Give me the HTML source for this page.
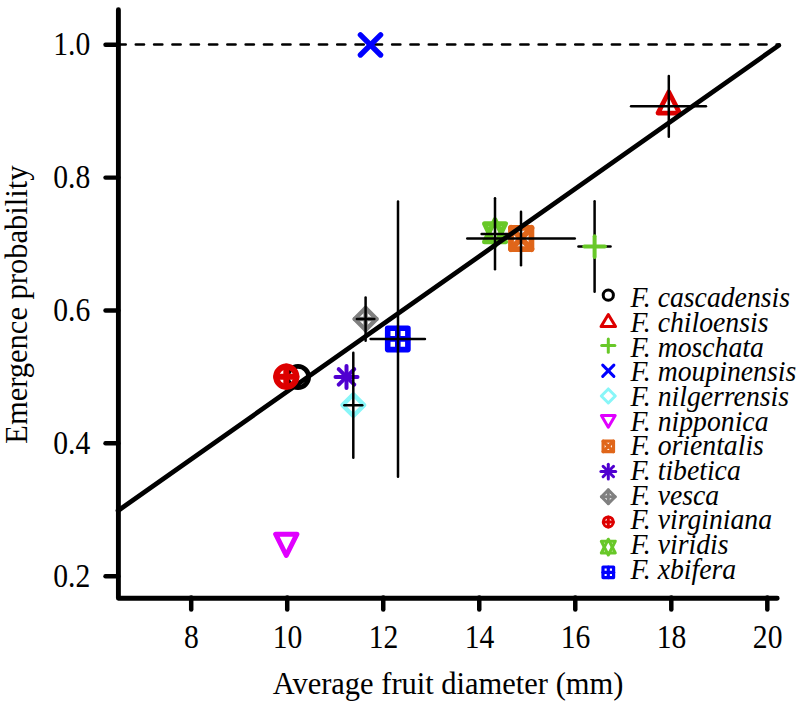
<!DOCTYPE html>
<html><head><meta charset="utf-8"><style>
html,body{margin:0;padding:0;background:#fff;}
svg{display:block;}
.tk{font-family:"Liberation Serif",serif;font-size:30px;fill:#000;}
.lg{font-family:"Liberation Serif",serif;font-style:italic;font-size:28.8px;fill:#000;}
</style></head><body>
<svg width="800" height="705" viewBox="0 0 800 705">
<rect width="800" height="705" fill="#fff"/>
<path d="M118.4,9.8 L118.4,598.2 L777.2,598.2" fill="none" stroke="#000" stroke-width="4.9" stroke-linecap="round" stroke-linejoin="round"/>
<line x1="105.50" y1="44.70" x2="118.40" y2="44.70" stroke="#000" stroke-width="4.4" stroke-linecap="round"/>
<line x1="105.50" y1="177.60" x2="118.40" y2="177.60" stroke="#000" stroke-width="4.4" stroke-linecap="round"/>
<line x1="105.50" y1="310.50" x2="118.40" y2="310.50" stroke="#000" stroke-width="4.4" stroke-linecap="round"/>
<line x1="105.50" y1="443.30" x2="118.40" y2="443.30" stroke="#000" stroke-width="4.4" stroke-linecap="round"/>
<line x1="105.50" y1="576.20" x2="118.40" y2="576.20" stroke="#000" stroke-width="4.4" stroke-linecap="round"/>
<line x1="191.20" y1="597.60" x2="191.20" y2="609.60" stroke="#000" stroke-width="4.5" stroke-linecap="round"/>
<line x1="287.22" y1="597.60" x2="287.22" y2="609.60" stroke="#000" stroke-width="4.5" stroke-linecap="round"/>
<line x1="383.24" y1="597.60" x2="383.24" y2="609.60" stroke="#000" stroke-width="4.5" stroke-linecap="round"/>
<line x1="479.26" y1="597.60" x2="479.26" y2="609.60" stroke="#000" stroke-width="4.5" stroke-linecap="round"/>
<line x1="575.28" y1="597.60" x2="575.28" y2="609.60" stroke="#000" stroke-width="4.5" stroke-linecap="round"/>
<line x1="671.30" y1="597.60" x2="671.30" y2="609.60" stroke="#000" stroke-width="4.5" stroke-linecap="round"/>
<line x1="767.32" y1="597.60" x2="767.32" y2="609.60" stroke="#000" stroke-width="4.5" stroke-linecap="round"/>
<line x1="117.5" y1="44.5" x2="779.5" y2="44.5" stroke="#000" stroke-width="2.6" stroke-linecap="round" stroke-dasharray="8.2 10.11"/>
<circle cx="298.00" cy="377.00" r="10.65" fill="none" stroke="#000" stroke-width="4.7"/>
<line x1="335.50" y1="376.90" x2="357.50" y2="376.90" stroke="#5000D0" stroke-width="4.0" stroke-linecap="round"/>
<line x1="346.50" y1="365.90" x2="346.50" y2="387.90" stroke="#5000D0" stroke-width="4.0" stroke-linecap="round"/>
<line x1="338.72" y1="369.12" x2="354.28" y2="384.68" stroke="#5000D0" stroke-width="4.0" stroke-linecap="round"/>
<line x1="338.72" y1="384.68" x2="354.28" y2="369.12" stroke="#5000D0" stroke-width="4.0" stroke-linecap="round"/>
<polygon points="353.30,394.40 364.10,405.20 353.30,416.00 342.50,405.20" fill="none" stroke="#88F6F8" stroke-width="4.5" stroke-linejoin="round"/>
<line x1="353.30" y1="352.75" x2="353.30" y2="457.75" stroke="#000" stroke-width="2.5" stroke-linecap="round"/>
<line x1="344.35" y1="405.20" x2="362.25" y2="405.20" stroke="#000" stroke-width="2.5" stroke-linecap="round"/>
<polygon points="365.60,308.10 376.50,319.00 365.60,329.90 354.70,319.00" fill="none" stroke="#808080" stroke-width="4.4" stroke-linejoin="round"/>
<line x1="354.70" y1="319.00" x2="376.50" y2="319.00" stroke="#808080" stroke-width="4.4" stroke-linecap="round"/>
<line x1="365.60" y1="308.10" x2="365.60" y2="329.90" stroke="#808080" stroke-width="4.4" stroke-linecap="round"/>
<line x1="365.60" y1="297.55" x2="365.60" y2="340.65" stroke="#000" stroke-width="2.5" stroke-linecap="round"/>
<line x1="356.85" y1="319.00" x2="374.35" y2="319.00" stroke="#000" stroke-width="2.5" stroke-linecap="round"/>
<polygon points="387.70,328.20 407.90,328.20 407.90,349.60 387.70,349.60" fill="none" stroke="#0000FF" stroke-width="5.6" stroke-linejoin="round"/>
<line x1="387.70" y1="338.90" x2="407.90" y2="338.90" stroke="#0000FF" stroke-width="5.6" stroke-linecap="round"/>
<line x1="397.80" y1="328.20" x2="397.80" y2="349.60" stroke="#0000FF" stroke-width="5.6" stroke-linecap="round"/>
<line x1="398.00" y1="201.45" x2="398.00" y2="476.85" stroke="#000" stroke-width="2.5" stroke-linecap="round"/>
<line x1="370.65" y1="339.00" x2="424.95" y2="339.00" stroke="#000" stroke-width="2.5" stroke-linecap="round"/>
<polygon points="275.65,534.20 296.95,534.20 286.30,555.50" fill="none" stroke="#E000FF" stroke-width="5.0" stroke-linejoin="round"/>
<polygon points="495.00,219.70 505.45,241.70 484.55,241.70" fill="none" stroke="#68C828" stroke-width="5.0" stroke-linejoin="round"/>
<polygon points="495.00,245.70 505.45,223.70 484.55,223.70" fill="none" stroke="#68C828" stroke-width="5.0" stroke-linejoin="round"/>
<line x1="495.00" y1="198.25" x2="495.00" y2="269.15" stroke="#000" stroke-width="2.5" stroke-linecap="round"/>
<line x1="481.65" y1="233.90" x2="508.25" y2="233.90" stroke="#000" stroke-width="2.5" stroke-linecap="round"/>
<polygon points="511.00,227.90 531.40,227.90 531.40,249.10 511.00,249.10" fill="none" stroke="#E0661A" stroke-width="5.8" stroke-linejoin="round"/>
<line x1="511.00" y1="227.90" x2="531.40" y2="249.10" stroke="#E0661A" stroke-width="5.8" stroke-linecap="round"/>
<line x1="511.00" y1="249.10" x2="531.40" y2="227.90" stroke="#E0661A" stroke-width="5.8" stroke-linecap="round"/>
<line x1="521.00" y1="211.65" x2="521.00" y2="265.25" stroke="#000" stroke-width="2.5" stroke-linecap="round"/>
<line x1="467.25" y1="238.60" x2="574.75" y2="238.60" stroke="#000" stroke-width="2.5" stroke-linecap="round"/>
<polygon points="668.80,92.00 679.60,113.10 658.00,113.10" fill="none" stroke="#DD0000" stroke-width="4.8" stroke-linejoin="round"/>
<line x1="668.80" y1="75.95" x2="668.80" y2="136.75" stroke="#000" stroke-width="2.5" stroke-linecap="round"/>
<line x1="631.05" y1="106.20" x2="705.95" y2="106.20" stroke="#000" stroke-width="2.5" stroke-linecap="round"/>
<line x1="118.0" y1="510.75" x2="778.8" y2="45.4" stroke="#000" stroke-width="4.7" stroke-linecap="round"/>
<line x1="594.60" y1="201.35" x2="594.60" y2="291.75" stroke="#000" stroke-width="2.5" stroke-linecap="round"/>
<line x1="578.45" y1="246.50" x2="610.55" y2="246.50" stroke="#000" stroke-width="2.5" stroke-linecap="round"/>
<line x1="584.30" y1="246.60" x2="604.90" y2="246.60" stroke="#68C828" stroke-width="4.0" stroke-linecap="round"/>
<line x1="594.60" y1="236.30" x2="594.60" y2="256.90" stroke="#68C828" stroke-width="4.0" stroke-linecap="round"/>
<line x1="360.40" y1="34.80" x2="380.60" y2="55.00" stroke="#0000FF" stroke-width="5.4" stroke-linecap="round"/>
<line x1="360.40" y1="55.00" x2="380.60" y2="34.80" stroke="#0000FF" stroke-width="5.4" stroke-linecap="round"/>
<circle cx="286.30" cy="376.70" r="10.10" fill="none" stroke="#DD0000" stroke-width="6.0"/>
<line x1="276.20" y1="376.70" x2="296.40" y2="376.70" stroke="#DD0000" stroke-width="6.0" stroke-linecap="round"/>
<line x1="286.30" y1="366.60" x2="286.30" y2="386.80" stroke="#DD0000" stroke-width="6.0" stroke-linecap="round"/>
<circle cx="608.30" cy="295.20" r="5.10" fill="none" stroke="#000" stroke-width="3.0"/>
<polygon points="608.30,314.49 615.55,326.49 601.05,326.49" fill="none" stroke="#DD0000" stroke-width="3.0" stroke-linejoin="round"/>
<line x1="601.70" y1="345.58" x2="614.90" y2="345.58" stroke="#68C828" stroke-width="3.0" stroke-linecap="round"/>
<line x1="608.30" y1="338.98" x2="608.30" y2="352.18" stroke="#68C828" stroke-width="3.0" stroke-linecap="round"/>
<line x1="602.70" y1="365.17" x2="613.90" y2="376.37" stroke="#0000FF" stroke-width="3.0" stroke-linecap="round"/>
<line x1="602.70" y1="376.37" x2="613.90" y2="365.17" stroke="#0000FF" stroke-width="3.0" stroke-linecap="round"/>
<polygon points="608.30,388.96 615.30,395.96 608.30,402.96 601.30,395.96" fill="none" stroke="#88F6F8" stroke-width="3.0" stroke-linejoin="round"/>
<polygon points="601.40,415.60 615.20,415.60 608.30,427.15" fill="none" stroke="#E000FF" stroke-width="3.0" stroke-linejoin="round"/>
<polygon points="603.10,441.14 613.50,441.14 613.50,451.54 603.10,451.54" fill="none" stroke="#E0661A" stroke-width="3.2" stroke-linejoin="round"/>
<line x1="603.10" y1="441.14" x2="613.50" y2="451.54" stroke="#E0661A" stroke-width="3.2" stroke-linecap="round"/>
<line x1="603.10" y1="451.54" x2="613.50" y2="441.14" stroke="#E0661A" stroke-width="3.2" stroke-linecap="round"/>
<line x1="600.90" y1="471.53" x2="615.70" y2="471.53" stroke="#5000D0" stroke-width="3.0" stroke-linecap="round"/>
<line x1="608.30" y1="464.13" x2="608.30" y2="478.93" stroke="#5000D0" stroke-width="3.0" stroke-linecap="round"/>
<line x1="603.07" y1="466.30" x2="613.53" y2="476.76" stroke="#5000D0" stroke-width="3.0" stroke-linecap="round"/>
<line x1="603.07" y1="476.76" x2="613.53" y2="466.30" stroke="#5000D0" stroke-width="3.0" stroke-linecap="round"/>
<polygon points="608.30,489.82 615.20,496.72 608.30,503.62 601.40,496.72" fill="none" stroke="#808080" stroke-width="3.0" stroke-linejoin="round"/>
<line x1="601.40" y1="496.72" x2="615.20" y2="496.72" stroke="#808080" stroke-width="3.0" stroke-linecap="round"/>
<line x1="608.30" y1="489.82" x2="608.30" y2="503.62" stroke="#808080" stroke-width="3.0" stroke-linecap="round"/>
<circle cx="608.30" cy="521.91" r="5.00" fill="none" stroke="#DD0000" stroke-width="3.0"/>
<line x1="603.30" y1="521.91" x2="613.30" y2="521.91" stroke="#DD0000" stroke-width="3.0" stroke-linecap="round"/>
<line x1="608.30" y1="516.91" x2="608.30" y2="526.91" stroke="#DD0000" stroke-width="3.0" stroke-linecap="round"/>
<polygon points="608.30,539.20 615.30,553.00 601.30,553.00" fill="none" stroke="#68C828" stroke-width="3.0" stroke-linejoin="round"/>
<polygon points="608.30,555.00 615.30,541.20 601.30,541.20" fill="none" stroke="#68C828" stroke-width="3.0" stroke-linejoin="round"/>
<polygon points="603.00,566.99 613.60,566.99 613.60,577.59 603.00,577.59" fill="none" stroke="#0000FF" stroke-width="3.2" stroke-linejoin="round"/>
<line x1="603.00" y1="572.29" x2="613.60" y2="572.29" stroke="#0000FF" stroke-width="3.2" stroke-linecap="round"/>
<line x1="608.30" y1="566.99" x2="608.30" y2="577.59" stroke="#0000FF" stroke-width="3.2" stroke-linecap="round"/>
<text transform="translate(630.5,307.10) scale(0.962,1)" class="lg">F. cascadensis</text>
<text transform="translate(630.5,331.80) scale(0.962,1)" class="lg">F. chiloensis</text>
<text transform="translate(630.5,356.50) scale(0.962,1)" class="lg">F. moschata</text>
<text transform="translate(630.5,381.20) scale(0.962,1)" class="lg">F. moupinensis</text>
<text transform="translate(630.5,405.90) scale(0.962,1)" class="lg">F. nilgerrensis</text>
<text transform="translate(630.5,430.60) scale(0.962,1)" class="lg">F. nipponica</text>
<text transform="translate(630.5,455.30) scale(0.962,1)" class="lg">F. orientalis</text>
<text transform="translate(630.5,480.00) scale(0.962,1)" class="lg">F. tibetica</text>
<text transform="translate(630.5,504.70) scale(0.962,1)" class="lg">F. vesca</text>
<text transform="translate(630.5,529.40) scale(0.962,1)" class="lg">F. virginiana</text>
<text transform="translate(630.5,554.10) scale(0.962,1)" class="lg">F. viridis</text>
<text transform="translate(630.5,578.80) scale(0.962,1)" class="lg">F. xbifera</text>
<text transform="translate(90.3,55.10) scale(0.89,1)" style="font-size:33.3px" class="tk" text-anchor="end">1.0</text>
<text transform="translate(90.3,188.00) scale(0.89,1)" style="font-size:33.3px" class="tk" text-anchor="end">0.8</text>
<text transform="translate(90.3,320.90) scale(0.89,1)" style="font-size:33.3px" class="tk" text-anchor="end">0.6</text>
<text transform="translate(90.3,453.70) scale(0.89,1)" style="font-size:33.3px" class="tk" text-anchor="end">0.4</text>
<text transform="translate(90.3,586.60) scale(0.89,1)" style="font-size:33.3px" class="tk" text-anchor="end">0.2</text>
<text transform="translate(191.50,647.6) scale(0.89,1)" style="font-size:33.3px" class="tk" text-anchor="middle">8</text>
<text transform="translate(287.52,647.6) scale(0.89,1)" style="font-size:33.3px" class="tk" text-anchor="middle">10</text>
<text transform="translate(383.54,647.6) scale(0.89,1)" style="font-size:33.3px" class="tk" text-anchor="middle">12</text>
<text transform="translate(479.56,647.6) scale(0.89,1)" style="font-size:33.3px" class="tk" text-anchor="middle">14</text>
<text transform="translate(575.58,647.6) scale(0.89,1)" style="font-size:33.3px" class="tk" text-anchor="middle">16</text>
<text transform="translate(671.60,647.6) scale(0.89,1)" style="font-size:33.3px" class="tk" text-anchor="middle">18</text>
<text transform="translate(767.62,647.6) scale(0.89,1)" style="font-size:33.3px" class="tk" text-anchor="middle">20</text>
<text transform="translate(448.0,693.6) scale(0.965,1)" style="font-size:31.6px" class="tk" text-anchor="middle">Average fruit diameter (mm)</text>
<text transform="translate(27.0,304.65) rotate(-90) scale(0.978,1)" style="font-size:31.2px" class="tk" text-anchor="middle">Emergence probability</text>
</svg>
</body></html>
